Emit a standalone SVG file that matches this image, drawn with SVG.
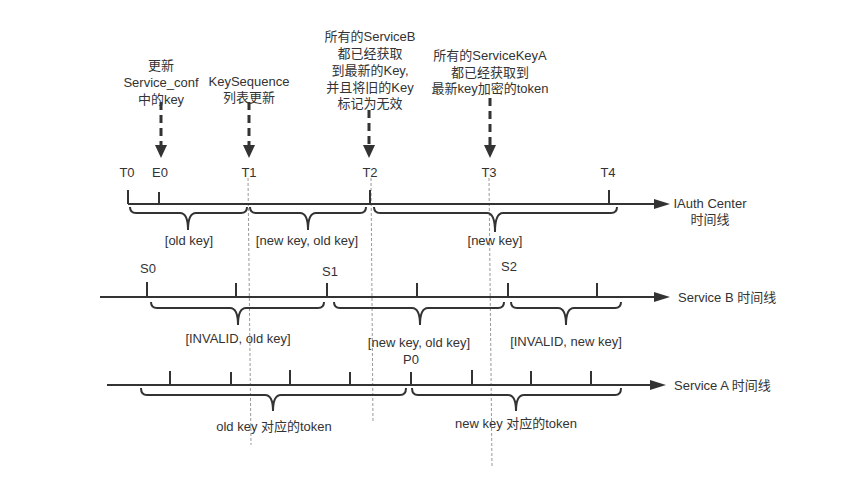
<svg xmlns="http://www.w3.org/2000/svg" width="841" height="497" viewBox="0 0 841 497">
<defs>
<style>
text{font-family:"Liberation Sans","Noto Sans CJK SC",sans-serif;font-size:13px;fill:#333;text-anchor:middle}
.lt{text-anchor:start}
.axis{stroke:#333;stroke-width:2;fill:none}
.tick{stroke:#333;stroke-width:2}
.brace{stroke:#333;stroke-width:2;fill:none}
.guide{stroke:#999;stroke-width:1;stroke-dasharray:3 2;fill:none}
.ann{stroke:#333;stroke-width:3;stroke-dasharray:8 5;fill:none}
</style>
<marker id="ah" markerWidth="10" markerHeight="10" refX="9" refY="5" orient="auto" markerUnits="userSpaceOnUse" viewBox="0 0 10 10">
<path d="M0,0 L10,5 L0,10 z" fill="#333"/>
</marker>
</defs>
<rect width="841" height="497" fill="#fff"/>

<g id="guides">
<path class="guide" d="M248,178 L251,445"/>
<path class="guide" d="M371,178 L373,422"/>
<path class="guide" d="M489,178 L492,468"/>
</g>

<g id="connectors">
<path class="ann" d="M161,102 L161,146"/>
<path d="M155,145 L167,145 L161,158 z" fill="#333"/>
<path class="ann" d="M249,102 L249,146"/>
<path d="M243,145 L255,145 L249,158 z" fill="#333"/>
<path class="ann" d="M369,110 L369,146"/>
<path d="M363,145 L375,145 L369,158 z" fill="#333"/>
<path class="ann" d="M490,98 L490,146"/>
<path d="M484,145 L496,145 L490,158 z" fill="#333"/>
</g>

<g id="annotations">
<text x="161" y="70">更新</text>
<text x="161" y="87">Service_conf</text>
<text x="161" y="104">中的key</text>
<text x="249" y="86">KeySequence</text>
<text x="249" y="102">列表更新</text>
<text x="370" y="41">所有的ServiceB</text>
<text x="370" y="58">都已经获取</text>
<text x="370" y="75">到最新的Key,</text>
<text x="370" y="92">并且将旧的Key</text>
<text x="370" y="108">标记为无效</text>
<text x="490" y="60">所有的ServiceKeyA</text>
<text x="490" y="77">都已经获取到</text>
<text x="490" y="93">最新key加密的token</text>
</g>

<g id="iauth">
<path class="axis" d="M128,204 L656,204"/>
<path d="M654,199 L670,204 L654,209 z" fill="#333"/>
<line class="tick" x1="128" y1="190" x2="128" y2="204"/>
<line class="tick" x1="159" y1="192" x2="159" y2="204"/>
<line class="tick" x1="370" y1="190" x2="370" y2="204"/>
<line class="tick" x1="609" y1="190" x2="609" y2="204"/>
<text x="127" y="177">T0</text>
<text x="160" y="177">E0</text>
<text x="249" y="177">T1</text>
<text x="370" y="177">T2</text>
<text x="489" y="177">T3</text>
<text x="608" y="177">T4</text>
<path class="brace" d="M130,207 Q130,213 136,213 L180,213 Q188,213 188,230 Q188,213 196,213 L241,213 Q247,213 247,207"/>
<path class="brace" d="M250,207 Q250,213 256,213 L300,213 Q308,213 308,230 Q308,213 316,213 L360,213 Q366,213 366,207"/>
<path class="brace" d="M374,207 Q374,213 380,213 L487,213 Q495,213 495,232 Q495,213 503,213 L611,213 Q617,213 617,207"/>
<text x="189" y="245">[old key]</text>
<text x="307" y="245">[new key, old key]</text>
<text x="495" y="245">[new key]</text>
<text x="710" y="208">IAuth Center</text>
<text x="710" y="224">时间线</text>
</g>

<g id="serviceB">
<path class="axis" d="M100,297 L656,297"/>
<path d="M654,292 L670,297 L654,302 z" fill="#333"/>
<line class="tick" x1="147" y1="282" x2="147" y2="297"/>
<line class="tick" x1="236" y1="283" x2="236" y2="297"/>
<line class="tick" x1="327" y1="283" x2="327" y2="297"/>
<line class="tick" x1="417" y1="283" x2="417" y2="297"/>
<line class="tick" x1="508" y1="283" x2="508" y2="297"/>
<line class="tick" x1="597" y1="283" x2="597" y2="297"/>
<text x="148" y="273">S0</text>
<text x="330" y="276">S1</text>
<text x="509" y="271">S2</text>
<path class="brace" d="M151,302 Q151,308 157,308 L230,308 Q238,308 238,325 Q238,308 246,308 L318,308 Q324,308 324,302"/>
<path class="brace" d="M334,302 Q334,308 340,308 L412,308 Q420,308 420,325 Q420,308 428,308 L498,308 Q504,308 504,302"/>
<path class="brace" d="M511,302 Q511,308 517,308 L558,308 Q566,308 566,325 Q566,308 574,308 L615,308 Q621,308 621,302"/>
<text x="238" y="343">[INVALID, old key]</text>
<text x="419" y="347">[new key, old key]</text>
<text x="566" y="346">[INVALID, new key]</text>
<text class="lt" x="678" y="302">Service B 时间线</text>
</g>

<g id="serviceA">
<path class="axis" d="M107,385 L652,385"/>
<path d="M650,380 L666,385 L650,390 z" fill="#333"/>
<line class="tick" x1="170" y1="371" x2="170" y2="385"/>
<line class="tick" x1="231" y1="372" x2="231" y2="385"/>
<line class="tick" x1="290" y1="370" x2="290" y2="385"/>
<line class="tick" x1="350" y1="372" x2="350" y2="385"/>
<line class="tick" x1="411" y1="372" x2="411" y2="385"/>
<line class="tick" x1="472" y1="370" x2="472" y2="385"/>
<line class="tick" x1="531" y1="371" x2="531" y2="385"/>
<line class="tick" x1="591" y1="371" x2="591" y2="385"/>
<text x="411" y="364">P0</text>
<path class="brace" d="M141,388 Q141,395 147,395 L265,395 Q273,395 273,411 Q273,395 281,395 L400,395 Q406,395 406,388"/>
<path class="brace" d="M412,388 Q412,395 418,395 L508,395 Q516,395 516,411 Q516,395 524,395 L615,395 Q621,395 621,388"/>
<text x="274" y="431">old key 对应的token</text>
<text x="516" y="428">new key 对应的token</text>
<text class="lt" x="674" y="390">Service A 时间线</text>
</g>
</svg>
